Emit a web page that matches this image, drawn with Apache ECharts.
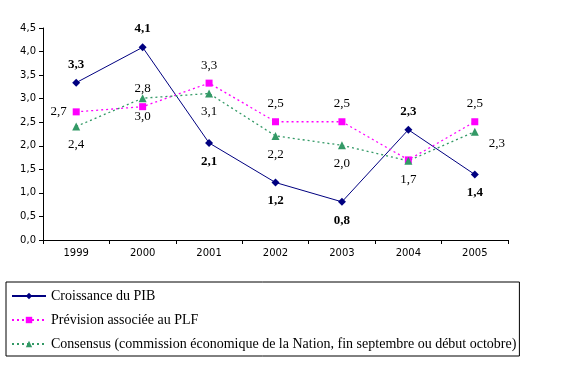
<!DOCTYPE html>
<html><head><meta charset="utf-8">
<script src="https://cdn.jsdelivr.net/npm/echarts@6/dist/echarts.min.js"></script>
<style>html,body{margin:0;padding:0;background:#fff}#c{width:571px;height:367px}</style>
</head><body>
<div id="c"></div>
<script>
const categories = ['1999','2000','2001','2002','2003','2004','2005'];
const yTicks = [0,0.5,1,1.5,2,2.5,3,3.5,4,4.5];
const pib = [3.34, 4.09, 2.06, 1.22, 0.81, 2.34, 1.39];
const plf = [2.72, 2.83, 3.33, 2.51, 2.51, 1.70, 2.51];
const consensus = [2.41, 3.01, 3.11, 2.21, 2.01, 1.68, 2.30];
const names = ['Croissance du PIB','Prévision associée au PLF','Consensus (commission économique de la Nation, fin septembre ou début octobre)'];

const fmt = v => (Math.round(v*10)/10).toFixed(1).replace('.', ',');
const serif = '"Liberation Serif", "Times New Roman", serif';
const sans = '"DejaVu Sans", sans-serif';

// label placement per series (style, not data)
const pibPos = ['top','top','bottom','bottom','bottom','top','bottom'];
const plfPos = ['left','top','top','top','top',null,'top'];
const conPos = ['bottom','bottom','bottom','bottom','bottom','bottom','right'];

function mk(values, posArr) {
  return values.map((v, i) => {
    const p = posArr[i];
    if (!p) return { value: v, label: { show: false } };
    const lab = { show: true, position: p, distance: 8 };
    if (p === 'left') { lab.distance = 6; }
    if (p === 'right') { lab.distance = 10; lab.offset = [0, 12]; }
    return { value: v, label: lab };
  });
}

const legendFont = { fontFamily: serif, fontSize: 14, color: '#000', fontWeight: 'normal' };

const chart = echarts.init(document.getElementById('c'), null, {renderer:'canvas'});
chart.setOption({
  animation: false,
  backgroundColor: '#fff',
  textStyle: { fontFamily: serif },
  grid: { left: 43, right: 63, top: 28, bottom: 127 },
  xAxis: {
    type: 'category', data: categories, boundaryGap: true,
    axisLine: { lineStyle: { color: '#000', width: 1 } },
    axisTick: { show: true, length: 4, lineStyle: { color: '#000' } },
    axisLabel: { color: '#000', fontFamily: sans, fontSize: 10, margin: 8 }
  },
  yAxis: {
    type: 'value', min: 0, max: 4.5, interval: 0.5,
    axisLine: { show: true, lineStyle: { color: '#000', width: 1 } },
    axisTick: { show: true, length: 4, lineStyle: { color: '#000' } },
    splitLine: { show: false },
    axisLabel: { color: '#000', fontFamily: sans, fontSize: 10, margin: 7, formatter: v => v.toFixed(1).replace('.', ',') }
  },
  legend: {
    orient: 'vertical', left: 6, top: 282,
    padding: [7, 3, 5, 5], itemGap: 10, itemWidth: 34, itemHeight: 8,
    borderColor: '#000', borderWidth: 1,
    textStyle: legendFont,
    data: names
  },
  series: [
    {
      name: names[0], type: 'line', data: mk(pib, pibPos),
      symbol: 'diamond', symbolSize: 8,
      lineStyle: { color: '#000080', width: 1 },
      itemStyle: { color: '#000080' },
      label: { fontFamily: serif, fontSize: 13, fontWeight: 'bold', color: '#000', formatter: p => fmt(p.value) }
    },
    {
      name: names[1], type: 'line', data: mk(plf, plfPos),
      symbol: 'rect', symbolSize: 7,
      lineStyle: { color: '#FF00FF', width: 1.3, type: [2, 3] },
      itemStyle: { color: '#FF00FF' },
      label: { fontFamily: serif, fontSize: 13, color: '#000', formatter: p => fmt(p.value) }
    },
    {
      name: names[2], type: 'line', data: mk(consensus, conPos),
      symbol: 'triangle', symbolSize: 8,
      lineStyle: { color: '#339966', width: 1.3, type: [2, 3] },
      itemStyle: { color: '#339966' },
      label: { fontFamily: serif, fontSize: 13, color: '#000', formatter: p => fmt(p.value) }
    }
  ]
});
</script></body></html>
